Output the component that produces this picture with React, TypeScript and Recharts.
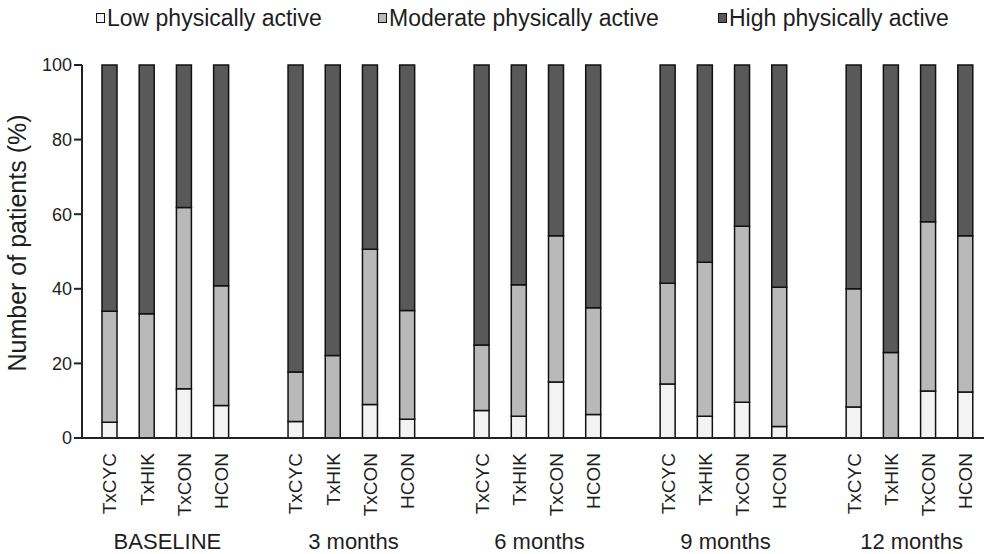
import React from 'react';
import { BarChart, Bar, XAxis, YAxis, Legend } from 'recharts';

const groups = ['BASELINE', '3 months', '6 months', '9 months', '12 months'];
const subgroups = ['TxCYC', 'TxHIK', 'TxCON', 'HCON'];

// values in % per group x subgroup (row-major: group, then subgroup)
const low = [4.2, 0, 13.2, 8.7, 4.4, 0, 9.0, 5.0, 7.4, 5.8, 15.0, 6.3, 14.5, 5.8, 9.6, 3.1, 8.3, 0, 12.6, 12.3];
const moderate = [29.8, 33.3, 48.6, 32.1, 13.3, 22.1, 41.6, 29.2, 17.5, 35.3, 39.2, 28.6, 27.0, 41.3, 47.2, 37.3, 31.7, 22.9, 45.4, 41.9];
const high = [66.0, 66.7, 38.2, 59.2, 82.3, 77.9, 49.4, 65.8, 75.1, 58.9, 45.8, 65.1, 58.5, 52.9, 43.2, 59.6, 60.0, 77.1, 42.0, 45.8];

const yTicks = [0, 20, 40, 60, 80, 100];

const seriesNames = ['Low physically active', 'Moderate physically active', 'High physically active'];
const seriesKeys = ['low', 'moderate', 'high'];
const seriesColors = ['#f3f3f3', '#b9b9b9', '#595959'];

const FONT = '"Liberation Sans", Arial, Helvetica, sans-serif';
const TEXT = '#1e1e1e';

type Row = { key: string; sub: string; group: string; low?: number; moderate?: number; high?: number };

const rows: Row[] = [];
groups.forEach((g, gi) => {
  subgroups.forEach((s, si) => {
    const k = gi * subgroups.length + si;
    rows.push({ key: `${g}-${s}`, sub: s, group: si === 1 ? g : '', low: low[k], moderate: moderate[k], high: high[k] });
  });
  if (gi < groups.length - 1) rows.push({ key: `gap-${gi}`, sub: '', group: '' });
});

const XTick = (props: any) => {
  const { x, y, payload } = props;
  const row = rows.find((r) => r.key === payload.value);
  if (!row) return null;
  const ty = y + 15;
  const half = payload.offset && payload.offset > 0 ? payload.offset : 18.6;
  return (
    <g>
      {row.sub ? (
        <text
          x={x}
          y={ty}
          transform={`rotate(-90, ${x}, ${ty})`}
          textAnchor="end"
          dy="0.36em"
          fontSize={19}
          fontFamily={FONT}
          fill={TEXT}
        >
          {row.sub}
        </text>
      ) : null}
      {row.group ? (
        <text x={x + half + 2} y={y + 110.5} textAnchor="middle" fontSize={22} fontFamily={FONT} fill={TEXT}>
          {row.group}
        </text>
      ) : null}
    </g>
  );
};

const YLabel = () => (
  <text
    x={26}
    y={243}
    transform="rotate(-90, 26, 243)"
    textAnchor="middle"
    fontSize={25}
    fontFamily={FONT}
    fill={TEXT}
  >
    Number of patients (%)
  </text>
);

const legendLefts = [96, 378, 718];

const LegendContent = () => (
  <div style={{ position: 'relative', width: 984, height: 40, fontFamily: FONT, color: TEXT }}>
    {seriesNames.map((name, i) => (
      <div key={name} style={{ position: 'absolute', left: legendLefts[i], top: 7, display: 'flex', alignItems: 'flex-start', whiteSpace: 'nowrap' }}>
        <span
          style={{
            display: 'inline-block',
            width: 7,
            height: 8,
            marginTop: 6,
            border: '1.5px solid #111',
            background: seriesColors[i],
            marginRight: 2,
          }}
        />
        <span style={{ fontSize: 23, lineHeight: '23px' }}>{name}</span>
      </div>
    ))}
  </div>
);

export default function App() {
  return (
    <div style={{ position: 'absolute', left: 0, top: 0, width: 984, height: 554, background: '#fff' }}>
      <BarChart width={984} height={554} data={rows} margin={{ top: 65, right: 0, bottom: 0, left: 0 }} barSize={15}>
        <Legend
          layout="vertical"
          align="center"
          verticalAlign="middle"
          content={<LegendContent />}
          wrapperStyle={{ position: 'absolute', left: 0, top: 0, width: 984, height: 40 }}
        />
        <XAxis
          dataKey="key"
          type="category"
          interval={0}
          height={116}
          padding={{ left: 9, right: 0 }}
          axisLine={{ stroke: '#222', strokeWidth: 2 }}
          tickLine={false}
          tickSize={0}
          tickMargin={0}
          tick={<XTick />}
        />
        <YAxis
          domain={[0, 100]}
          ticks={yTicks}
          width={82}
          axisLine={{ stroke: '#222', strokeWidth: 2 }}
          tickLine={{ stroke: '#222', strokeWidth: 2 }}
          tickSize={8}
          tick={{ fontSize: 18, fontFamily: FONT, fill: TEXT }}
          label={<YLabel />}
        />
        {seriesKeys.map((k, i) => (
          <Bar
            key={k}
            dataKey={k}
            name={seriesNames[i]}
            stackId="a"
            fill={seriesColors[i]}
            stroke="#111"
            strokeWidth={1.5}
            isAnimationActive={false}
          />
        ))}
      </BarChart>
    </div>
  );
}
